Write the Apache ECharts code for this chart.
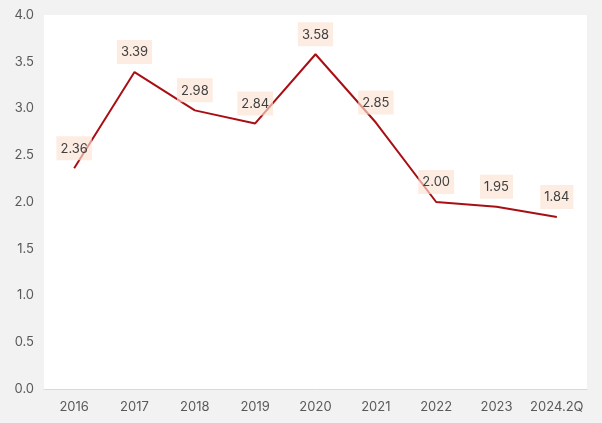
<!DOCTYPE html>
<html><head><meta charset="utf-8">
<script src="https://cdn.jsdelivr.net/npm/echarts@6/dist/echarts.min.js"></script>
<style>html,body{margin:0;padding:0;background:#f2f2f2}#c{width:602px;height:423px}</style>
</head><body><div id="c"></div>
<script>
const categories = ['2016','2017','2018','2019','2020','2021','2022','2023','2024.2Q'];
const values = [2.36, 3.39, 2.98, 2.84, 3.58, 2.85, 2.00, 1.95, 1.84];
const chart = echarts.init(document.getElementById('c'));
chart.setOption({
  backgroundColor: '#f2f2f2',
  animation: false,
  textStyle: {fontFamily: 'Inter'},
  grid: {left: 44, right: 15, top: 15, bottom: 34, show: true, backgroundColor: '#ffffff', borderWidth: 0},
  xAxis: {
    type: 'category', data: categories, boundaryGap: true,
    axisLine: {lineStyle: {color: '#d9d9d9'}},
    axisTick: {show: false},
    axisLabel: {color: '#595959', fontSize: 13, margin: 12, interval: 0}
  },
  yAxis: {
    type: 'value', min: 0, max: 4, interval: 0.5,
    axisLine: {show: false}, axisTick: {show: false},
    splitLine: {show: false},
    axisLabel: {color: '#595959', fontSize: 13, formatter: v => v.toFixed(1), margin: 10}
  },
  series: [{
    type: 'line', data: values, showSymbol: true, symbol: 'circle', symbolSize: 2,
    lineStyle: {color: '#a80f14', width: 2},
    itemStyle: {color: 'rgba(168,15,20,0)', borderWidth: 0},
    label: {
      show: true, position: 'top', distance: 7, opacity: 1,
      formatter: p => p.value.toFixed(2),
      color: '#404040', fontSize: 13,
      backgroundColor: 'rgba(250,226,210,0.65)', padding: [6, 4, 5, 4]
    },
    z: 3
  }]
});
</script></body></html>
